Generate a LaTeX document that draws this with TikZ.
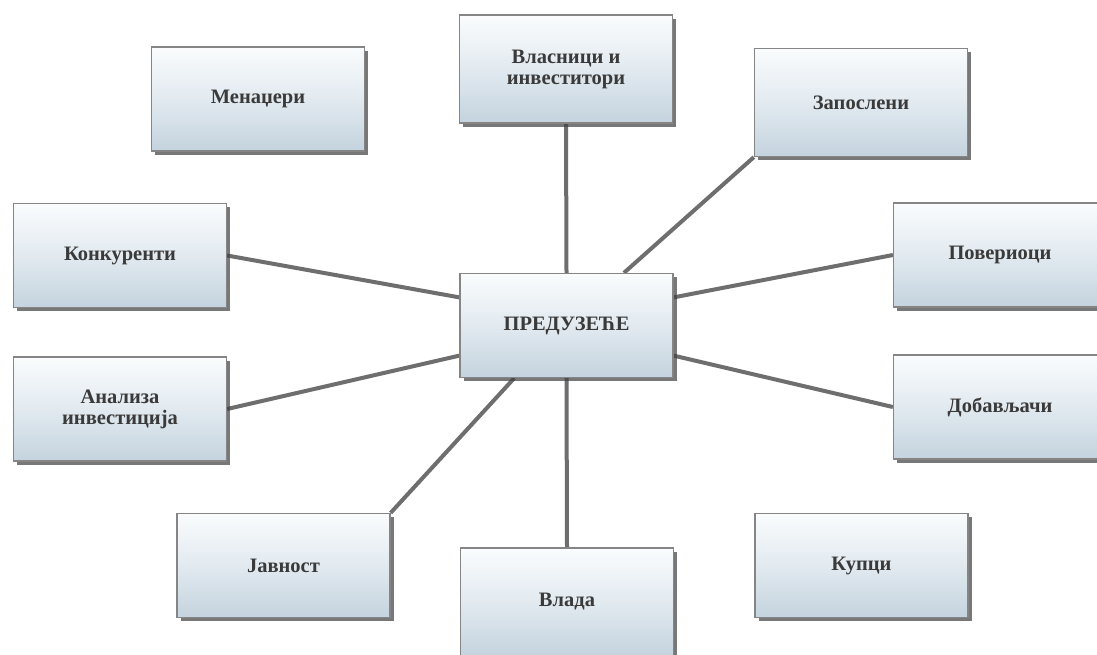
\documentclass[tikz,border=0pt]{standalone}
\usepackage{fontspec}
\setmainfont{Liberation Serif}
\usetikzlibrary{calc,shadows}
\pgfdeclarelayer{paper}
\pgfdeclarelayer{bg}
\pgfsetlayers{paper,bg,main}
\definecolor{boxtop}{HTML}{FAFCFD}
\definecolor{boxmid}{HTML}{E2EAF0}
\definecolor{boxbot}{HTML}{C4D3DE}
\definecolor{boxline}{HTML}{858585}
\definecolor{linkcol}{HTML}{6E6E6E}
\definecolor{txtcol}{HTML}{3A3A3A}
\tikzset{
  card/.style={rectangle, draw=boxline, line width=1.3pt,
    top color=boxtop, bottom color=boxbot, middle color=boxmid,
    minimum width=213pt, minimum height=104pt, inner sep=0pt,
    align=center, text=txtcol,
    font=\fontsize{20.5}{21}\selectfont\bfseries,
    drop shadow={shadow xshift=3.5pt, shadow yshift=-3.5pt,
      fill=black!75, opacity=0.7}},
  tall/.style={minimum height=108pt},
  link/.style={draw=linkcol, line width=4pt}
}
\begin{document}
\begin{tikzpicture}[x=1pt,y=-1pt]
\clip (0,0) rectangle (1097,654);
\begin{pgfonlayer}{paper}
\fill[white] (0,0) rectangle (1097,654);
\end{pgfonlayer}

% stakeholder boxes
\node[card] (men) at (258,99) {Менаџери};
\node[card,tall] (vlas) at (566,69) {Власници и\\инвеститори};
\node[card,tall] (zap) at (861,102.5) {Запослени};
\node[card] (kon) at (120,255.5) {Конкуренти};
\node[card] (pov) at (1000,255) {Повериоци};
\node[card] (pred) at (566.5,325.5) {ПРЕДУЗЕЋЕ};
\node[card] (anal) at (120,409) {Анализа\\инвестиција};
\node[card] (dob) at (1000,407) {Добављачи};
\node[card] (jav) at (283.5,565.5) {Јавност};
\node[card,tall] (vlada) at (567,602) {Влада};
\node[card] (kup) at (861.5,565.5) {Купци};

% connectors to the company
\begin{pgfonlayer}{bg}
\draw[link] (vlas.south) -- (pred.north);
\draw[link] (zap.south west) -- ($(pred.north west)!0.768!(pred.north east)$);
\draw[link] (kon.east) -- ($(pred.north west)!0.233!(pred.south west)$);
\draw[link] (pov.west) -- ($(pred.north east)!0.233!(pred.south east)$);
\draw[link] (anal.east) -- ($(pred.north west)!0.786!(pred.south west)$);
\draw[link] (dob.west) -- ($(pred.north east)!0.786!(pred.south east)$);
\draw[link] (jav.north east) -- ($(pred.south west)!0.256!(pred.south east)$);
\draw[link] (vlada.north) -- (pred.south);
\end{pgfonlayer}
\end{tikzpicture}
\end{document}
